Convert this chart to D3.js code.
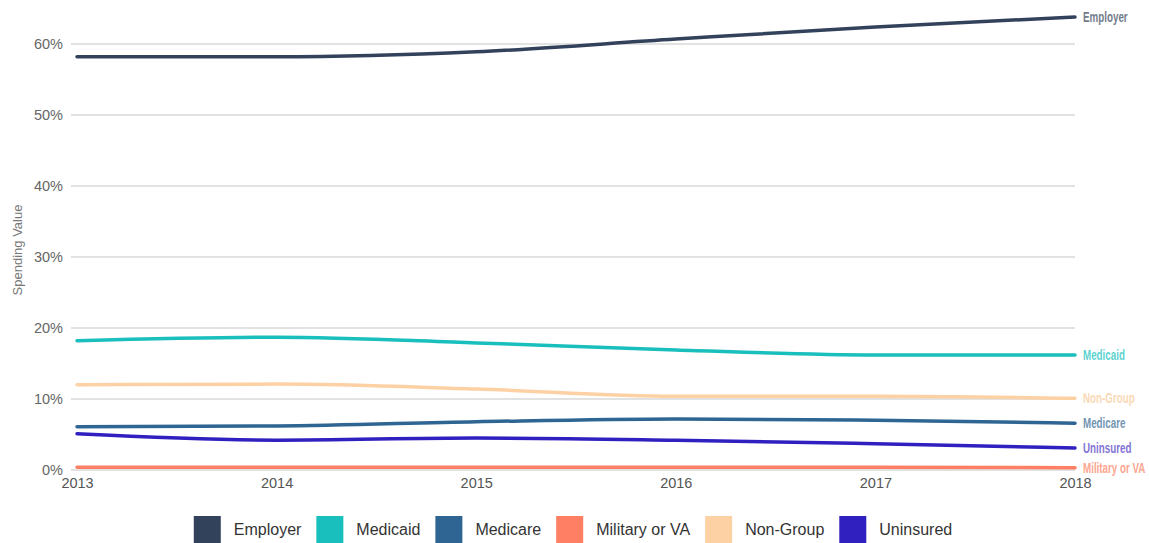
<!DOCTYPE html>
<html><head><meta charset="utf-8">
<script src="https://cdn.jsdelivr.net/npm/d3@7"></script>
<style>
html,body{margin:0;padding:0;background:#fff;}
svg{display:block;}
</style></head>
<body>
<svg id="chart" width="1149" height="543"></svg>
<script>
const years = [2013, 2014, 2015, 2016, 2017, 2018];
const seriesNames = ["Employer", "Medicaid", "Medicare", "Military or VA", "Non-Group", "Uninsured"];
const employer = [58.2, 58.2, 58.9, 60.7, 62.4, 63.8];
const medicaid = [18.2, 18.7, 17.9, 16.9, 16.2, 16.2];
const medicare = [6.1, 6.2, 6.8, 7.2, 7.0, 6.6];
const military = [0.4, 0.4, 0.4, 0.4, 0.4, 0.3];
const nonGroup = [12.0, 12.1, 11.4, 10.4, 10.4, 10.1];
const uninsured = [5.1, 4.2, 4.5, 4.2, 3.7, 3.1];
const yTicks = [0, 10, 20, 30, 40, 50, 60];
const colors = ["#33425b", "#19bfbc", "#2e6593", "#fe7f64", "#fed1a4", "#3120c0"];
const labelColors = ["#737c8b", "#5fd3d0", "#7396b4", "#fda590", "#fcd8b6", "#8373d6"];

const valuesBySeries = [employer, medicaid, medicare, military, nonGroup, uninsured];
const drawOrder = [4, 3, 5, 2, 1, 0];

const svg = d3.select("#chart");
const x = d3.scaleLinear().domain([2013, 2018]).range([77, 1075]);
const y = d3.scaleLinear().domain([0, 60]).range([470, 44]);

// gridlines
const grid = svg.append("g");
grid.selectAll("line").data(yTicks).join("line")
  .attr("x1", 71).attr("x2", 1075)
  .attr("y1", d => y(d)).attr("y2", d => y(d))
  .attr("stroke", "#d9d9d9").attr("stroke-width", 1.5);

// y axis labels
const yAxis = d3.axisLeft(y).tickValues(yTicks).tickFormat(d => d + "%").tickSize(0).tickPadding(0);
const yg = svg.append("g").attr("transform", "translate(63,0)").call(yAxis);
yg.select(".domain").remove();
yg.selectAll("text").attr("font-family", "Liberation Sans, Arial, sans-serif")
  .attr("font-size", 14.5).attr("fill", "#666");

// x axis labels
const xAxis = d3.axisBottom(x).tickValues(years).tickFormat(d3.format("d")).tickSize(0).tickPadding(0);
const xg = svg.append("g").attr("transform", "translate(0,478)").call(xAxis);
xg.select(".domain").remove();
xg.selectAll("text").attr("font-family", "Liberation Sans, Arial, sans-serif")
  .attr("font-size", 14.5).attr("fill", "#555");

// y axis title
svg.append("text")
  .attr("transform", "translate(22,250) rotate(-90)")
  .attr("text-anchor", "middle")
  .attr("font-family", "Liberation Sans, Arial, sans-serif")
  .attr("font-size", 13).attr("fill", "#777")
  .text("Spending Value");

// lines
const line = d3.line().x((d, i) => x(years[i])).y(d => y(d)).curve(d3.curveMonotoneX);
const lg = svg.append("g");
drawOrder.forEach(k => {
  lg.append("path").datum(valuesBySeries[k])
    .attr("d", line)
    .attr("fill", "none")
    .attr("stroke", colors[k])
    .attr("stroke-width", 3.5)
    .attr("stroke-linecap", "round")
    .attr("stroke-linejoin", "round");
});

// end labels (condensed via horizontal scale)
const endLabels = svg.append("g");
seriesNames.forEach((name, k) => {
  const v = valuesBySeries[k][years.length - 1];
  endLabels.append("g")
    .attr("transform", `translate(1083,${y(v)}) scale(0.7,1)`)
    .append("text")
    .attr("x", 0).attr("y", 0)
    .attr("dy", "0.35em")
    .attr("font-family", "Liberation Sans, Arial, sans-serif")
    .attr("font-size", 14).attr("font-weight", "bold")
    .attr("fill", labelColors[k])
    .text(name);
});

// legend
const legend = svg.append("g");
let cursor = 0;
seriesNames.forEach((name, k) => {
  const g = legend.append("g");
  g.append("rect").attr("x", 0).attr("y", 516).attr("width", 27).attr("height", 27).attr("fill", colors[k]);
  const t = g.append("text").attr("x", 40).attr("y", 529).attr("dy", "0.35em")
    .attr("font-family", "Liberation Sans, Arial, sans-serif")
    .attr("font-size", 16).attr("fill", "#333").text(name);
  const w = t.node().getComputedTextLength();
  g.attr("transform", `translate(${cursor},0)`);
  cursor += 40 + w + 15;
});
const total = cursor - 15;
legend.attr("transform", `translate(${573 - total / 2},0)`);
</script>
</body></html>
